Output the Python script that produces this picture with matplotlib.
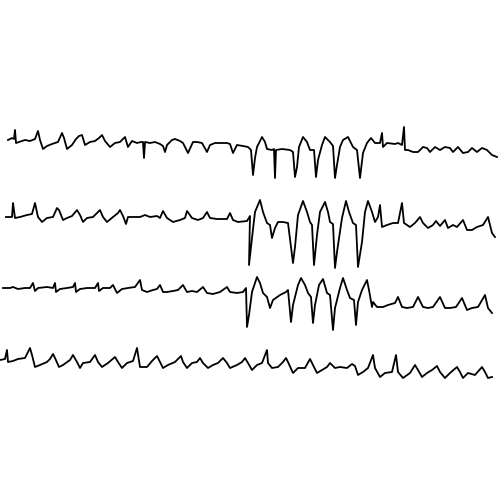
import matplotlib
matplotlib.use("Agg")
import matplotlib.pyplot as plt

# four ECG strips (x, y in image pixels)
strip1 = [(8, 140), (12, 138), (14, 139), (15, 130), (16, 143), (19, 142), (25, 140), (30, 141), (35, 139),
          (38, 131), (40, 140), (43, 149), (47, 146), (52, 144), (58, 142), (62, 133), (64, 138), (67, 149),
          (72, 145), (76, 139), (79, 136), (82, 135), (85, 145), (90, 142), (95, 141), (99, 138), (102, 135),
          (105, 141), (110, 147), (115, 143), (120, 142), (125, 137), (128, 147), (132, 141), (137, 143),
          (141, 142), (143, 142), (144, 158), (145, 142), (150, 143), (155, 142), (160, 144), (163, 146),
          (165, 152), (167, 145), (172, 140), (175, 139), (180, 141), (183, 143), (188, 153), (193, 142),
          (197, 142), (202, 143), (207, 152), (210, 145), (215, 143), (218, 143), (227, 143), (230, 144),
          (233, 153), (237, 145), (243, 146), (248, 147), (251, 150), (253, 175), (255, 158), (257, 147),
          (262, 137), (265, 142), (267, 149), (272, 150), (274, 149), (275, 178), (276, 150), (282, 149),
          (290, 150), (293, 152), (295, 177), (297, 167), (299, 147), (303, 137), (307, 142), (310, 150),
          (314, 150), (316, 177), (318, 160), (322, 145), (325, 137), (330, 142), (333, 146), (335, 178),
          (337, 165), (340, 147), (343, 140), (348, 137), (353, 147), (357, 150), (360, 178), (363, 153),
          (367, 143), (371, 138), (375, 143), (380, 143), (382, 133), (383, 147), (387, 143), (395, 144),
          (398, 143), (402, 145), (404, 127), (405, 150), (408, 150), (413, 152), (418, 152), (423, 147),
          (427, 148), (430, 152), (435, 147), (440, 150), (445, 147), (450, 148), (453, 152), (458, 147),
          (463, 153), (468, 152), (472, 148), (477, 152), (482, 148), (487, 150), (492, 155), (497, 157)]

strip2 = [(6, 217), (12, 217), (13, 203), (15, 218), (20, 217), (27, 215), (32, 214), (35, 203), (38, 217),
          (42, 222), (47, 218), (53, 217), (57, 208), (59, 210), (63, 220), (67, 218), (72, 216), (77, 210),
          (80, 215), (83, 222), (87, 218), (93, 217), (100, 210), (103, 217), (107, 222), (113, 217),
          (118, 213), (120, 210), (123, 216), (126, 224), (128, 217), (133, 217), (140, 217), (145, 215),
          (150, 217), (157, 216), (160, 218), (163, 211), (167, 218), (173, 222), (180, 220), (185, 218),
          (187, 211), (192, 218), (198, 220), (203, 218), (207, 212), (210, 218), (217, 219), (227, 219),
          (230, 213), (233, 220), (238, 222), (247, 221), (250, 216), (249, 265), (252, 238), (255, 212),
          (260, 200), (263, 212), (267, 223), (270, 225), (272, 238), (275, 228), (278, 222), (283, 222),
          (288, 223), (293, 263), (295, 247), (298, 215), (303, 201), (307, 212), (310, 222), (312, 225),
          (314, 265), (317, 235), (320, 212), (325, 202), (328, 212), (330, 222), (333, 224), (335, 268),
          (337, 252), (342, 218), (346, 201), (349, 212), (353, 223), (356, 225), (358, 267), (362, 242),
          (365, 212), (368, 201), (372, 212), (375, 222), (378, 217), (380, 205), (382, 227), (387, 225),
          (393, 223), (398, 223), (402, 203), (404, 223), (410, 227), (415, 223), (420, 217), (423, 223),
          (428, 228), (433, 225), (436, 221), (440, 226), (445, 220), (448, 228), (453, 225), (457, 227),
          (463, 220), (467, 230), (472, 230), (477, 227), (483, 225), (488, 217), (492, 233), (495, 237)]

strip3 = [(3, 288), (10, 288), (13, 287), (18, 289), (25, 288), (30, 288), (33, 283), (35, 291), (38, 288),
          (47, 287), (53, 288), (55, 283), (56, 292), (60, 289), (67, 288), (73, 287), (75, 283), (76, 292),
          (80, 289), (87, 288), (95, 288), (98, 283), (99, 291), (103, 288), (110, 288), (113, 285),
          (117, 293), (122, 289), (128, 288), (135, 287), (140, 280), (142, 290), (147, 292), (153, 290),
          (157, 289), (160, 285), (163, 292), (167, 292), (173, 291), (178, 290), (183, 285), (187, 292),
          (192, 291), (197, 292), (203, 287), (207, 293), (213, 294), (220, 292), (227, 287), (230, 292),
          (237, 293), (243, 292), (246, 288), (247, 327), (249, 315), (252, 292), (257, 277), (260, 283),
          (263, 293), (267, 297), (270, 308), (273, 300), (280, 295), (286, 292), (288, 290), (291, 322),
          (293, 305), (298, 285), (301, 278), (305, 285), (308, 293), (311, 297), (313, 323), (315, 305),
          (319, 285), (323, 279), (327, 293), (330, 295), (333, 330), (335, 308), (340, 288), (343, 278),
          (347, 290), (350, 298), (354, 300), (356, 325), (358, 302), (362, 290), (367, 280), (369, 290),
          (372, 307), (373, 302), (377, 307), (383, 307), (388, 305), (395, 303), (398, 297), (402, 307),
          (407, 308), (413, 307), (418, 297), (423, 307), (428, 308), (433, 307), (440, 297), (445, 308),
          (450, 308), (456, 307), (462, 298), (467, 310), (472, 308), (478, 307), (485, 295), (488, 308),
          (492, 313)]

strip4 = [(0, 360), (5, 359), (7, 350), (8, 362), (13, 361), (18, 359), (25, 358), (30, 348), (32, 355),
          (35, 367), (40, 365), (47, 362), (50, 359), (53, 354), (55, 358), (59, 367), (63, 365), (70, 360),
          (73, 355), (77, 362), (80, 368), (83, 363), (90, 362), (95, 355), (98, 362), (102, 367), (108, 363),
          (115, 357), (118, 362), (122, 368), (127, 363), (133, 361), (137, 348), (140, 367), (147, 367),
          (152, 361), (157, 356), (160, 362), (163, 368), (168, 365), (175, 362), (181, 356), (183, 362),
          (187, 368), (192, 363), (197, 362), (200, 358), (203, 363), (208, 368), (213, 365), (218, 363),
          (223, 358), (227, 363), (230, 368), (237, 365), (242, 362), (245, 358), (248, 363), (252, 370),
          (257, 365), (262, 363), (267, 350), (268, 363), (272, 368), (278, 367), (283, 362), (286, 358),
          (288, 362), (293, 373), (298, 368), (305, 368), (310, 359), (313, 365), (317, 373), (322, 370),
          (327, 367), (330, 363), (335, 368), (340, 367), (347, 368), (352, 364), (355, 366), (358, 375),
          (363, 372), (368, 368), (373, 355), (375, 368), (380, 377), (385, 373), (392, 372), (396, 355),
          (398, 372), (403, 378), (410, 373), (415, 365), (418, 370), (422, 377), (427, 373), (432, 370),
          (437, 366), (440, 372), (445, 378), (450, 373), (457, 367), (460, 372), (463, 378), (468, 373),
          (475, 375), (482, 367), (485, 372), (488, 378), (492, 377)]

strips = [strip1, strip2, strip3, strip4]

fig = plt.figure(figsize=(5, 5), dpi=100)
ax = fig.add_axes([0, 0, 1, 1])
for s in strips:
    xs, ys = zip(*s)
    ax.plot(xs, ys, color="black", linewidth=1.3, solid_joinstyle="round")
ax.set_xlim(0, 500)
ax.set_ylim(500, 0)
ax.axis("off")

fig.savefig("out.png", dpi=100, facecolor="white")
